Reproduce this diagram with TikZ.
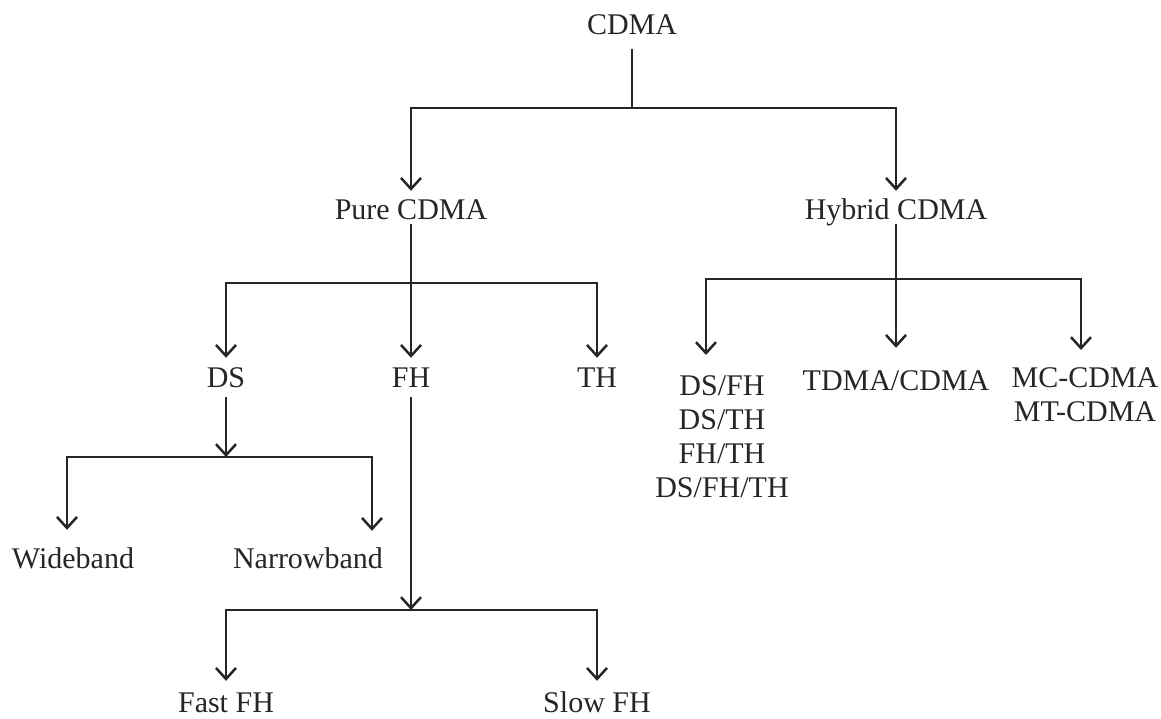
\documentclass[tikz,border=0pt]{standalone}
\usepackage{fontspec}
\setmainfont{Liberation Serif}
\usetikzlibrary{arrows.meta}
\begin{document}
\begin{tikzpicture}[x=1pt,y=-1pt,
  lbl/.style={font=\fontsize{30}{34}\selectfont, text=black!85, inner xsep=2pt, inner ysep=8pt, text height=21pt, text depth=6pt, anchor=base},
  blk/.style={font=\fontsize{30}{34}\selectfont, text=black!85, inner xsep=2pt, inner ysep=8pt, align=center, anchor=north},
  ln/.style={line width=2.5pt, draw=black!85},
  arr/.style={ln, -{Straight Barb[length=11pt,width=20pt,line width=2.5pt]}}]
\useasboundingbox (0,0) rectangle (1161,719);
% nodes
\node[lbl] (cdma) at (632,35) {CDMA};
\node[lbl] (pure) at (411,220) {Pure CDMA};
\node[lbl] (hyb) at (896,220) {Hybrid CDMA};
\node[lbl] (ds) at (226,387) {DS};
\node[lbl] (fh) at (411,387) {FH};
\node[lbl] (th) at (597,387) {TH};
\node[lbl] (wide) at (73,568) {Wideband};
\node[lbl] (narrow) at (308,568) {Narrowband};
\node[lbl, text depth=2pt, inner ysep=4pt] (fast) at (226,712) {Fast FH};
\node[lbl, text depth=2pt, inner ysep=4pt] (slow) at (597,712) {Slow FH};
\node[blk] (mix) at (722,367) {DS/FH\\DS/TH\\FH/TH\\DS/FH/TH};
\node[lbl] (tdma) at (896,390) {TDMA/CDMA};
\node[blk] (mc) at (1085,359) {MC-CDMA\\MT-CDMA};
% junctions
\coordinate (jtop) at (632,108);
\coordinate (jpure) at (411,283);
\coordinate (jhyb) at (896,279);
\coordinate (jds) at (226,457);
\coordinate (jfh) at (411,610);
% connectors
\draw[ln] (cdma.south) -- (jtop);
\draw[arr] (jtop) -| (pure.north);
\draw[arr] (jtop) -| (hyb.north);
\draw[arr] ([yshift=10pt]pure.south) -- (fh.north);
\draw[arr] (jpure) -| (ds.north);
\draw[arr] (jpure) -| (th.north);
\draw[arr] ([yshift=4pt]ds.south) -- (jds);
\draw[arr, shorten >=9pt] (jds) -| ([xshift=-6pt]wide.north);
\draw[arr, shorten >=8pt] (jds) -| ([xshift=64pt]narrow.north);
\draw[arr] ([yshift=4pt]fh.south) -- (jfh);
\draw[arr, shorten >=6pt] (jfh) -| (fast.north);
\draw[arr, shorten >=6pt] (jfh) -| (slow.north);
\draw[arr, shorten >=13pt] ([yshift=10pt]hyb.south) -- (tdma.north);
\draw[arr, shorten >=12pt] (jhyb) -| ([xshift=-16pt]mix.north);
\draw[arr, shorten >=9pt] (jhyb) -| ([xshift=-4pt]mc.north);
\end{tikzpicture}
\end{document}
